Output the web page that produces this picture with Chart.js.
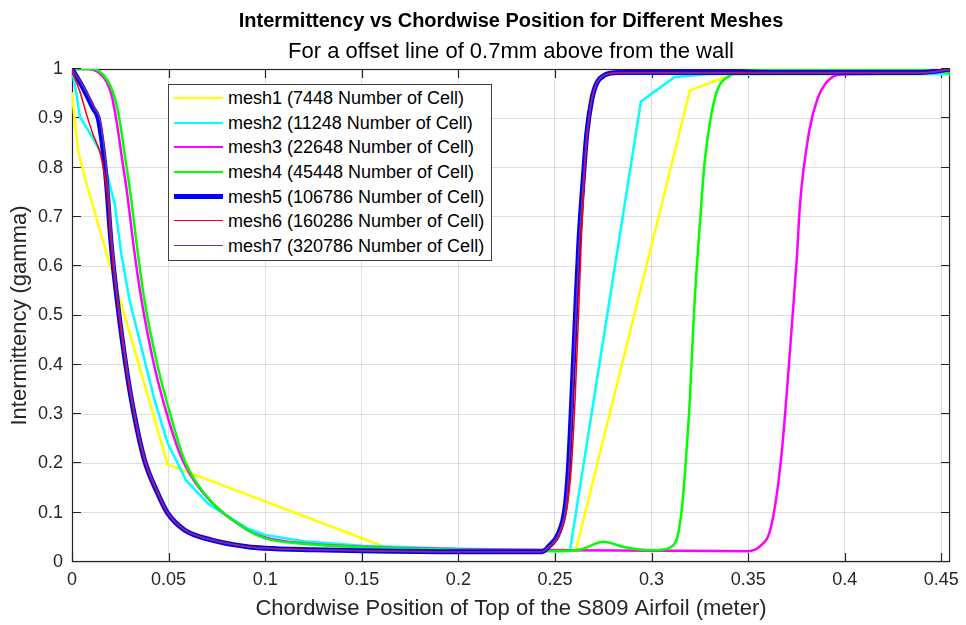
<!DOCTYPE html>
<html>
<head>
<meta charset="utf-8">
<title>Intermittency vs Chordwise Position</title>
<script src="https://cdn.jsdelivr.net/npm/chart.js"></script>
<style>
  html, body { margin: 0; padding: 0; background: #fff; }
  #wrap { position: relative; width: 966px; height: 625px; }
  #legend {
    position: absolute; left: 168px; top: 84px; width: 322px; height: 175px;
    background: #fff; border: 1px solid #404040;
    font: 18px "Liberation Sans", Arial, sans-serif; color: #000;
  }
  #legend .row { position: absolute; left: 0; width: 100%; height: 24px; }
  #legend .swatch { position: absolute; left: 5px; width: 49px; height: 0; }
  #legend .label { position: absolute; left: 59px; top: 0; line-height: 24px; white-space: nowrap; }
</style>
</head>
<body>
<div id="wrap">
  <canvas id="chart" width="966" height="625"></canvas>
  <div id="legend"></div>
</div>
<script>
// Axis ticks
const xTicks = [0, 0.05, 0.1, 0.15, 0.2, 0.25, 0.3, 0.35, 0.4, 0.45];
const xTickLabels = ['0', '0.05', '0.1', '0.15', '0.2', '0.25', '0.3', '0.35', '0.4', '0.45'];
const yTicks = [0, 0.1, 0.2, 0.3, 0.4, 0.5, 0.6, 0.7, 0.8, 0.9, 1];
const yTickLabels = ['0', '0.1', '0.2', '0.3', '0.4', '0.5', '0.6', '0.7', '0.8', '0.9', '1'];

const meshNames = [
    'mesh1 (7448 Number of Cell)',
    'mesh2 (11248 Number of Cell)',
    'mesh3 (22648 Number of Cell)',
    'mesh4 (45448 Number of Cell)',
    'mesh5 (106786 Number of Cell)',
    'mesh6 (160286 Number of Cell)',
    'mesh7 (320786 Number of Cell)'
];

// mesh1
const mesh1X = [0, 0.0015, 0.0033, 0.0067, 0.0495, 0.1624, 0.2, 0.2609, 0.3198, 0.3412, 0.38, 0.4545];
const mesh1Y = [0.951, 0.893, 0.832, 0.778, 0.198, 0.030, 0.026, 0.025, 0.956, 0.988, 0.99, 0.99];

// mesh2
const mesh2X = [0, 0.0024, 0.0041, 0.0067, 0.011, 0.0153, 0.0179, 0.0222, 0.0256, 0.0298, 0.0427, 0.0495,
    0.059, 0.0702, 0.0908, 0.1, 0.12, 0.15, 0.2, 0.2578, 0.2945, 0.312, 0.33, 0.4545];
const mesh2Y = [0.998, 0.947, 0.903, 0.886, 0.859, 0.826, 0.792, 0.724, 0.623, 0.531, 0.329, 0.241,
    0.166, 0.119, 0.068, 0.055, 0.042, 0.033, 0.027, 0.024, 0.934, 0.984, 0.99, 0.99];

// mesh3
const mesh3X = [0, 0.008, 0.0144, 0.0179, 0.0205, 0.0231, 0.0256, 0.0282, 0.0325, 0.036, 0.0427, 0.0495,
    0.0564, 0.0667, 0.0908, 0.1, 0.12, 0.15, 0.2, 0.25, 0.3, 0.3498, 0.3559, 0.3619, 0.367, 0.3705,
    0.373, 0.3753, 0.3768, 0.3817, 0.386, 0.3902, 0.3963, 0.41, 0.4545];
const mesh3Y = [1.0, 1.0, 0.991, 0.974, 0.947, 0.893, 0.826, 0.758, 0.623, 0.531, 0.396, 0.295,
    0.214, 0.146, 0.065, 0.05, 0.038, 0.031, 0.026, 0.024, 0.023, 0.022, 0.031, 0.072, 0.207, 0.369,
    0.5, 0.623, 0.724, 0.876, 0.941, 0.971, 0.988, 0.99, 0.995];

// mesh4
const mesh4X = [0, 0.011, 0.0162, 0.0196, 0.0222, 0.0248, 0.0273, 0.0299, 0.0342, 0.0375, 0.0444, 0.0512,
    0.0582, 0.0685, 0.0908, 0.1, 0.12, 0.15, 0.2, 0.25, 0.2638, 0.275, 0.2862, 0.30, 0.3068, 0.3103,
    0.3134, 0.3158, 0.3175, 0.3198, 0.321, 0.3223, 0.3249, 0.3275, 0.3309, 0.3344, 0.3395, 0.3481,
    0.448, 0.4545];
const mesh4Y = [1.0, 1.0, 0.988, 0.968, 0.941, 0.893, 0.826, 0.758, 0.623, 0.531, 0.396, 0.295,
    0.207, 0.139, 0.065, 0.048, 0.037, 0.030, 0.025, 0.022, 0.026, 0.041, 0.030, 0.024, 0.026, 0.031,
    0.051, 0.112, 0.193, 0.329, 0.43, 0.53, 0.68, 0.812, 0.907, 0.961, 0.984, 0.996,
    1.0, 0.99];

// mesh5
const mesh5X = [0, 0.0058, 0.011, 0.0136, 0.0153, 0.017, 0.0184, 0.0196, 0.0208, 0.0234, 0.028, 0.0324,
    0.0375, 0.0444, 0.0495, 0.0582, 0.0719, 0.0908, 0.1, 0.125, 0.15, 0.2, 0.2432, 0.2466, 0.2518,
    0.2553, 0.257, 0.2587, 0.2606, 0.2624, 0.2647, 0.2665, 0.269, 0.2716, 0.2759, 0.2828, 0.44, 0.4545];
const mesh5Y = [1.0, 0.961, 0.92, 0.9, 0.859, 0.805, 0.744, 0.677, 0.623, 0.531, 0.396, 0.295,
    0.207, 0.139, 0.099, 0.065, 0.045, 0.031, 0.028, 0.025, 0.023, 0.021, 0.021, 0.031, 0.058,
    0.112, 0.193, 0.329, 0.5, 0.65, 0.781, 0.87, 0.937, 0.971, 0.988, 0.993, 0.993, 1.0];

// mesh6
const mesh6X = [0, 0.0041, 0.0076, 0.011, 0.0144, 0.0162, 0.0184, 0.0196, 0.0208, 0.0234, 0.028, 0.0324,
    0.0375, 0.0444, 0.0495, 0.0582, 0.0719, 0.0908, 0.1, 0.125, 0.15, 0.2, 0.2432, 0.2473, 0.2525,
    0.2563, 0.2585, 0.2604, 0.2622, 0.2636, 0.2652, 0.2668, 0.269, 0.2716, 0.2759, 0.2828, 0.44, 0.4545];
const mesh6Y = [0.995, 0.954, 0.907, 0.866, 0.832, 0.799, 0.744, 0.677, 0.623, 0.531, 0.396, 0.295,
    0.207, 0.139, 0.099, 0.065, 0.045, 0.031, 0.028, 0.025, 0.023, 0.021, 0.021, 0.031, 0.058,
    0.112, 0.193, 0.329, 0.5, 0.65, 0.781, 0.87, 0.937, 0.971, 0.988, 0.993, 0.993, 1.0];

// mesh7
const mesh7X = [0, 0.0064, 0.0117, 0.0143, 0.016, 0.0176, 0.019, 0.0201, 0.0213, 0.0238, 0.0284, 0.0327,
    0.0378, 0.0447, 0.0497, 0.0584, 0.072, 0.0908, 0.1, 0.125, 0.15, 0.2, 0.2432, 0.2468, 0.252,
    0.2556, 0.2573, 0.259, 0.2608, 0.2626, 0.2648, 0.2666, 0.269, 0.2716, 0.2759, 0.2828, 0.44, 0.4545];
const mesh7Y = [1.0, 0.961, 0.92, 0.9, 0.859, 0.805, 0.744, 0.677, 0.623, 0.531, 0.396, 0.295,
    0.207, 0.139, 0.099, 0.065, 0.045, 0.031, 0.028, 0.025, 0.023, 0.021, 0.021, 0.031, 0.058,
    0.112, 0.193, 0.329, 0.5, 0.65, 0.781, 0.87, 0.937, 0.971, 0.988, 0.992, 0.992, 0.999];

const meshX = [mesh1X, mesh2X, mesh3X, mesh4X, mesh5X, mesh6X, mesh7X];
const meshY = [mesh1Y, mesh2Y, mesh3Y, mesh4Y, mesh5Y, mesh6Y, mesh7Y];

const meshColors = ['#ffff00', '#00ffff', '#ff00ff', '#00ff00', '#0000ff', '#ff0000', '#7e2f8e'];
const meshWidths = [2.5, 2.5, 2.5, 2.5, 5, 1.5, 1.5];

const titleText = 'Intermittency vs Chordwise Position for Different Meshes';
const subtitleText = 'For a offset line of 0.7mm above from the wall';
const FONT = '"Liberation Sans", Arial, sans-serif';

// Box, inward tick marks and the two title lines
const axesBox = {
    id: 'axesBox',
    beforeDatasetsDraw(chart) {
        const {ctx, chartArea: a, scales} = chart;
        const len = 9;
        ctx.save();
        ctx.strokeStyle = '#262626';
        ctx.lineWidth = 1.2;
        ctx.strokeRect(a.left + 0.5, a.top + 0.5, a.right - a.left - 1, a.bottom - a.top - 1);
        ctx.beginPath();
        xTicks.forEach(v => {
            const px = Math.round(scales.x.getPixelForValue(v)) + 0.5;
            ctx.moveTo(px, a.bottom); ctx.lineTo(px, a.bottom - len);
            ctx.moveTo(px, a.top); ctx.lineTo(px, a.top + len);
        });
        yTicks.forEach(v => {
            const py = Math.round(scales.y.getPixelForValue(v)) - 0.5;
            ctx.moveTo(a.left, py); ctx.lineTo(a.left + len, py);
            ctx.moveTo(a.right, py); ctx.lineTo(a.right - len, py);
        });
        ctx.stroke();
        ctx.restore();
    },
    afterDraw(chart) {
        const {ctx, chartArea: a} = chart;
        const cx = (a.left + a.right) / 2;
        ctx.save();
        ctx.fillStyle = '#000';
        ctx.textAlign = 'center';
        ctx.textBaseline = 'middle';
        ctx.font = 'bold 20px ' + FONT;
        ctx.fillText(titleText, cx, 21);
        ctx.font = '22px ' + FONT;
        ctx.fillText(subtitleText, cx, 52);
        ctx.restore();
    }
};

const ctx = document.getElementById('chart').getContext('2d');
const chart = new Chart(ctx, {
    type: 'line',
    data: {
        datasets: meshNames.map((name, i) => ({
            label: name,
            data: meshX[i].map((x, j) => ({x: x, y: meshY[i][j]})),
            borderColor: meshColors[i],
            backgroundColor: meshColors[i],
            borderWidth: meshWidths[i],
            pointRadius: 0,
            fill: false,
            tension: 0,
            cubicInterpolationMode: i < 2 ? 'default' : 'monotone',
            borderJoinStyle: 'round',
            borderCapStyle: 'round',
            order: meshNames.length - i
        }))
    },
    options: {
        responsive: false,
        animation: false,
        events: [],
        layout: {
            padding: {top: 69, right: 13, bottom: 0, left: 0}
        },
        plugins: {
            legend: {display: false},
            tooltip: {enabled: false}
        },
        scales: {
            x: {
                type: 'linear',
                min: 0,
                max: 0.4545,
                afterBuildTicks: scale => { scale.ticks = xTicks.map(v => ({value: v})); },
                afterFit: scale => { scale.height = 63; },
                grid: {
                    color: 'rgba(38, 38, 38, 0.15)',
                    drawTicks: false
                },
                border: {display: false},
                ticks: {
                    padding: 7,
                    maxRotation: 0,
                    color: '#262626',
                    font: {family: FONT, size: 18},
                    callback: (value, index) => xTickLabels[index]
                },
                title: {
                    display: true,
                    text: 'Chordwise Position of Top of the S809 Airfoil (meter)',
                    color: '#262626',
                    font: {family: FONT, size: 22},
                    padding: {top: 0, bottom: 3}
                }
            },
            y: {
                type: 'linear',
                min: 0,
                max: 1,
                afterBuildTicks: scale => { scale.ticks = yTicks.map(v => ({value: v})); },
                afterFit: scale => { scale.width = 72; },
                grid: {
                    color: 'rgba(38, 38, 38, 0.15)',
                    drawTicks: false
                },
                border: {display: false},
                ticks: {
                    padding: 9,
                    color: '#262626',
                    font: {family: FONT, size: 18},
                    callback: (value, index) => yTickLabels[index]
                },
                title: {
                    display: true,
                    text: 'Intermittency (gamma)',
                    color: '#262626',
                    font: {family: FONT, size: 22},
                    padding: {top: 7, bottom: 0}
                }
            }
        }
    },
    plugins: [axesBox]
});

// Legend box built from the chart's datasets
const legendEl = document.getElementById('legend');
chart.data.datasets.forEach((ds, i) => {
    const row = document.createElement('div');
    row.className = 'row';
    row.style.top = (1.3 + i * 24.55) + 'px';

    const swatch = document.createElement('span');
    swatch.className = 'swatch';
    swatch.style.borderTop = ds.borderWidth + 'px solid ' + ds.borderColor;
    swatch.style.top = (12 - ds.borderWidth / 2) + 'px';

    const label = document.createElement('span');
    label.className = 'label';
    label.textContent = ds.label;

    row.appendChild(swatch);
    row.appendChild(label);
    legendEl.appendChild(row);
});
</script>
</body>
</html>
